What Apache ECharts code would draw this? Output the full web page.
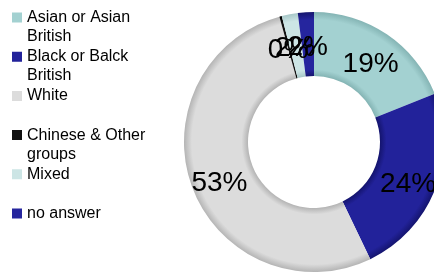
<!DOCTYPE html>
<html>
<head>
<meta charset="utf-8">
<script src="https://cdn.jsdelivr.net/npm/echarts@6/dist/echarts.min.js"></script>
<style>
  html, body { margin: 0; padding: 0; background: #fff; }
  #chart { width: 434px; height: 276px; }
</style>
</head>
<body>
<div id="chart"></div>
<script>
// 数据
var groups = ['Asian or Asian British', 'Black or Balck British', 'White', 'Chinese & Other groups', 'Mixed', 'no answer']
var legendText = ['Asian or Asian\nBritish', 'Black or Balck\nBritish', 'White\n ', 'Chinese & Other\ngroups', 'Mixed\n ', 'no answer\n ']
var shares = [19, 24, 53, 0.3, 2, 2]
var colors = ['#a3d1d1', '#22229a', '#dcdcdc', '#111111', '#cce5e5', '#25259e']
var edges = ['#84b4b4', '#14146e', '#b4b4b4', '#000000', '#a8c8c8', '#16166e']

var cx = 314
var cy = 142
var rOut = 130
var rIn = 66

// 图例方块对齐第一行文字（下方留空的路径）
var legendIcon = 'path://M0,0L0.01,0L0,0Z M0,4.5H10V14.5H0Z M0,38L0.01,38L0,38Z'

var myChart = echarts.init(document.getElementById('chart'))

var pieData = groups.map(function (name, i) {
  return {
    name: name,
    value: shares[i],
    itemStyle: {
      // 模拟立体环的边缘
      color: new echarts.graphic.RadialGradient(cx, cy, rOut, [
        { offset: rIn / rOut, color: edges[i] },
        { offset: rIn / rOut + 0.05, color: colors[i] },
        { offset: 0.94, color: colors[i] },
        { offset: 1, color: edges[i] }
      ], true)
    }
  }
})

var option = {
  animation: false,
  legend: {
    orient: 'vertical',
    left: 12,
    top: 8,
    padding: 0,
    itemWidth: 10,
    itemHeight: 38,
    itemGap: 1.2,
    icon: legendIcon,
    data: groups.map(function (name, i) {
      return { name: name, itemStyle: { color: colors[i] } }
    }),
    formatter: function (name) {
      return legendText[groups.indexOf(name)]
    },
    textStyle: {
      fontFamily: 'Liberation Sans',
      fontSize: 16,
      lineHeight: 19,
      color: '#000'
    }
  },
  series: [
    {
      type: 'pie',
      center: [cx, cy],
      radius: [rIn, rOut],
      startAngle: 90,
      clockwise: true,
      avoidLabelOverlap: false,
      minShowLabelAngle: 0,
      labelLayout: { hideOverlap: false },
      label: {
        show: true,
        position: 'inside',
        fontFamily: 'Liberation Sans',
        fontSize: 28,
        color: '#000',
        offset: [0, 6],
        formatter: function (p) {
          return Math.round(p.percent) + '%'
        }
      },
      labelLine: { show: false },
      data: pieData
    }
  ]
}

myChart.setOption(option)
</script>
</body>
</html>
